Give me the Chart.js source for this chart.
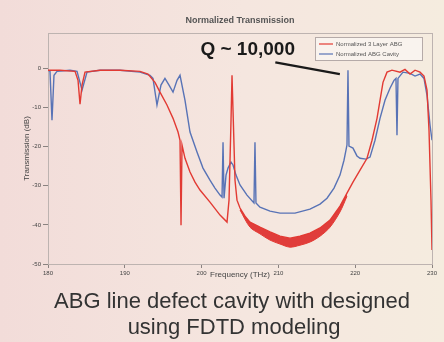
<!DOCTYPE html>
<html>
<head>
<meta charset="utf-8">
<script src="https://cdn.jsdelivr.net/npm/chart.js@4.4.0/dist/chart.umd.min.js"></script>
<style>
  body { margin: 0; background: linear-gradient(90deg, #f2dcd9 0%, #f5e6df 55%, #f5ecdf 100%); }
  canvas { display: block; }
</style>
</head>
<body>
<canvas id="transChart" width="444" height="342"></canvas>
<script>
// frequency axis (THz) and transmission (dB)
const xTicks = [180, 190, 200, 210, 220, 230];
const yTicks = [0, -10, -20, -30, -40, -50];

// 3 layer ABG (red)
const redFreq = [180.0, 181.56, 183.52, 183.91, 184.17, 184.43, 184.82, 186.77, 189.38, 191.98, 193.02, 193.93,
  194.58, 195.49, 196.28, 196.93, 197.19, 197.32, 197.45, 197.84, 198.49, 199.14, 199.79, 201.09, 202.40, 203.31,
  203.57, 203.83, 203.96, 204.09, 204.35, 204.61, 205.0, 205.65, 206.30, 207.60, 208.91, 210.21, 211.51, 212.81,
  214.11, 215.42, 216.72, 218.02, 218.93, 219.71, 220.63, 221.54, 222.19, 222.84, 223.23, 223.62, 224.14, 224.79,
  225.83, 226.48, 227.14, 227.79, 228.44, 228.96, 229.35, 229.61, 229.87, 230.0];
const redDb = [-0.5, -0.5, -0.8, -3.1, -9.2, -4.3, -1.0, -0.5, -0.5, -0.8, -1.5, -3.6,
  -6.1, -9.4, -12.8, -16.3, -18.4, -40.1, -19.6, -23.0, -26.5, -29.1, -31.1, -34.2, -37.5, -39.3,
  -33.7, -13.3, -1.8, -10.7, -28.6, -33.7, -35.7, -37.8, -39.3, -40.6, -41.8, -42.9, -43.4, -42.9,
  -42.1, -40.8, -38.8, -35.2, -31.9, -29.1, -26.0, -23.0, -18.4, -12.8, -8.2, -3.6, -1.0, -0.5,
  -1.0, -0.3, -1.5, -0.5, -1.0, -2.0, -5.6, -15.8, -33.7, -46.4];

// lower edge of the thick red band (fast ripple)
const bandFreq = [205.0, 206.30, 207.60, 208.91, 210.21, 211.51, 212.81, 214.11, 215.42, 216.72, 218.02, 218.93];
const bandDb = [-36.2, -40.6, -42.3, -43.9, -44.9, -45.7, -45.2, -44.4, -42.9, -40.6, -36.7, -32.7];

// ABG cavity (blue)
const blueFreq = [180.0, 180.26, 180.52, 180.78, 181.17, 182.86, 183.78, 184.43, 185.08, 186.77, 189.38, 191.98,
  193.28, 193.67, 194.19, 194.71, 195.23, 195.76, 196.28, 196.80, 197.19, 197.84, 198.49, 199.40, 200.18, 201.09,
  201.74, 202.40, 202.66, 202.79, 202.92, 203.18, 203.44, 203.83, 204.09, 204.48, 205.0, 205.91, 206.82, 206.95,
  207.08, 207.60, 208.91, 210.21, 212.16, 214.11, 215.42, 216.33, 217.24, 218.02, 218.54, 218.80, 218.93, 219.06,
  219.19, 219.71, 220.23, 220.63, 221.41, 221.93, 222.58, 223.23, 223.88, 224.53, 225.05, 225.31, 225.44, 225.57,
  226.22, 227.14, 227.79, 228.44, 228.96, 229.35, 229.74, 230.0];
const blueDb = [-0.5, -0.8, -13.3, -1.8, -0.8, -0.5, -0.8, -5.6, -1.0, -0.5, -0.5, -1.0,
  -1.8, -2.6, -9.4, -4.3, -2.6, -4.3, -6.1, -3.1, -1.8, -8.2, -16.3, -21.4, -25.5, -28.6,
  -30.6, -32.4, -32.9, -18.9, -33.2, -27.3, -25.5, -24.0, -24.7, -27.3, -29.8, -32.4, -34.4, -18.9,
  -34.4, -35.5, -36.5, -37.0, -37.0, -36.0, -34.7, -33.2, -30.6, -27.3, -23.5, -20.9, -19.6, -0.5,
  -19.9, -20.4, -22.4, -23.0, -23.2, -22.7, -18.4, -12.8, -8.2, -5.1, -3.1, -2.6, -17.1, -2.6,
  -1.0, -1.3, -2.0, -1.5, -2.6, -6.9, -14.5, -18.4];

const seriesNames = ['Normalized 3 Layer ABG', 'Normalized ABG Cavity'];
const redColor = '#e23a33';
const blueColor = '#5873b6';

const pts = (xs, ys) => xs.map((x, i) => ({ x: x, y: ys[i] }));

const decorPlugin = {
  id: 'decor',
  beforeDatasetsDraw(chart) {
    const { ctx, chartArea: a } = chart;
    ctx.save();
    ctx.strokeStyle = '#bdb3b0';
    ctx.lineWidth = 1;
    ctx.strokeRect(a.left + 0.5, a.top + 0.5, a.right - a.left, a.bottom - a.top);
    ctx.restore();
  },
  afterDraw(chart) {
    const { ctx, scales } = chart;
    const x = scales.x, y = scales.y;
    ctx.save();
    // title
    ctx.fillStyle = '#555';
    ctx.font = 'bold 9px Arial, "Liberation Sans", sans-serif';
    ctx.textAlign = 'center';
    ctx.textBaseline = 'middle';
    ctx.fillText('Normalized Transmission', 240, 21);

    // Q annotation
    ctx.fillStyle = '#1a1a1a';
    ctx.font = 'bold 19px Arial, "Liberation Sans", sans-serif';
    ctx.textBaseline = 'alphabetic';
    ctx.fillText('Q ~ 10,000', x.getPixelForValue(206.0), y.getPixelForValue(3.3));
    ctx.strokeStyle = '#1a1a1a';
    ctx.lineWidth = 2.5;
    ctx.beginPath();
    ctx.moveTo(x.getPixelForValue(209.6), y.getPixelForValue(1.5));
    ctx.lineTo(x.getPixelForValue(218.0), y.getPixelForValue(-1.5));
    ctx.stroke();

    // legend box
    const lx = 315, ly = 37, lw = 107, lh = 23;
    ctx.fillStyle = 'rgba(250,244,240,0.9)';
    ctx.fillRect(lx, ly, lw, lh);
    ctx.strokeStyle = '#b5aaa8';
    ctx.lineWidth = 1;
    ctx.strokeRect(lx + 0.5, ly + 0.5, lw, lh);
    ctx.font = '6px Arial, "Liberation Sans", sans-serif';
    ctx.textAlign = 'left';
    ctx.textBaseline = 'middle';
    [redColor, blueColor].forEach((c, i) => {
      const yy = ly + 7 + i * 10;
      ctx.strokeStyle = c;
      ctx.lineWidth = 1.2;
      ctx.beginPath();
      ctx.moveTo(lx + 4, yy);
      ctx.lineTo(lx + 18, yy);
      ctx.stroke();
      ctx.fillStyle = '#555';
      ctx.fillText(seriesNames[i], lx + 21, yy);
    });

    // caption
    ctx.fillStyle = '#333';
    ctx.font = '22px Arial, "Liberation Sans", sans-serif';
    ctx.textAlign = 'center';
    ctx.textBaseline = 'alphabetic';
    ctx.fillText('ABG line defect cavity with designed', 232, 308);
    ctx.fillText('using FDTD modeling', 234, 334);
    ctx.restore();
  }
};

new Chart(document.getElementById('transChart'), {
  type: 'line',
  data: {
    datasets: [
      {
        label: seriesNames[0],
        data: pts(redFreq, redDb),
        borderColor: redColor,
        borderWidth: 1.4,
        pointRadius: 0,
        tension: 0
      },
      {
        label: 'band',
        data: pts(bandFreq, bandDb),
        borderColor: redColor,
        borderWidth: 1,
        backgroundColor: 'rgba(220,30,30,0.85)',
        fill: 0,
        pointRadius: 0,
        tension: 0.3
      },
      {
        label: seriesNames[1],
        data: pts(blueFreq, blueDb),
        borderColor: blueColor,
        borderWidth: 1.4,
        pointRadius: 0,
        tension: 0
      }
    ]
  },
  options: {
    responsive: false,
    animation: false,
    layout: { padding: { left: 0, right: 12, top: 33, bottom: 56 } },
    plugins: {
      legend: { display: false },
      tooltip: { enabled: false },
      filler: { propagate: false }
    },
    scales: {
      x: {
        type: 'linear',
        min: 180,
        max: 230,
        afterBuildTicks: (s) => { s.ticks = xTicks.map(v => ({ value: v })); },
        afterFit: (s) => { s.height = 22; },
        grid: { drawOnChartArea: false, tickLength: 4, color: '#8a8280' },
        border: { color: '#a9a09e' },
        ticks: { color: '#444', font: { size: 6 }, padding: 2, maxRotation: 0 },
        title: { display: true, text: 'Frequency (THz)', color: '#444', font: { size: 8 }, padding: { top: 0, bottom: 6 } }
      },
      y: {
        min: -50,
        max: 9,
        afterBuildTicks: (s) => { s.ticks = yTicks.map(v => ({ value: v })); },
        afterFit: (s) => { s.width = 48; },
        grid: { drawOnChartArea: false, tickLength: 5, color: '#8a8280' },
        border: { color: '#a9a09e' },
        ticks: { color: '#444', font: { size: 6 }, padding: 2 },
        title: { display: true, text: 'Transmission (dB)', color: '#444', font: { size: 8 }, padding: { top: 22, bottom: 0 } }
      }
    }
  },
  plugins: [decorPlugin]
});
</script>
</body>
</html>
